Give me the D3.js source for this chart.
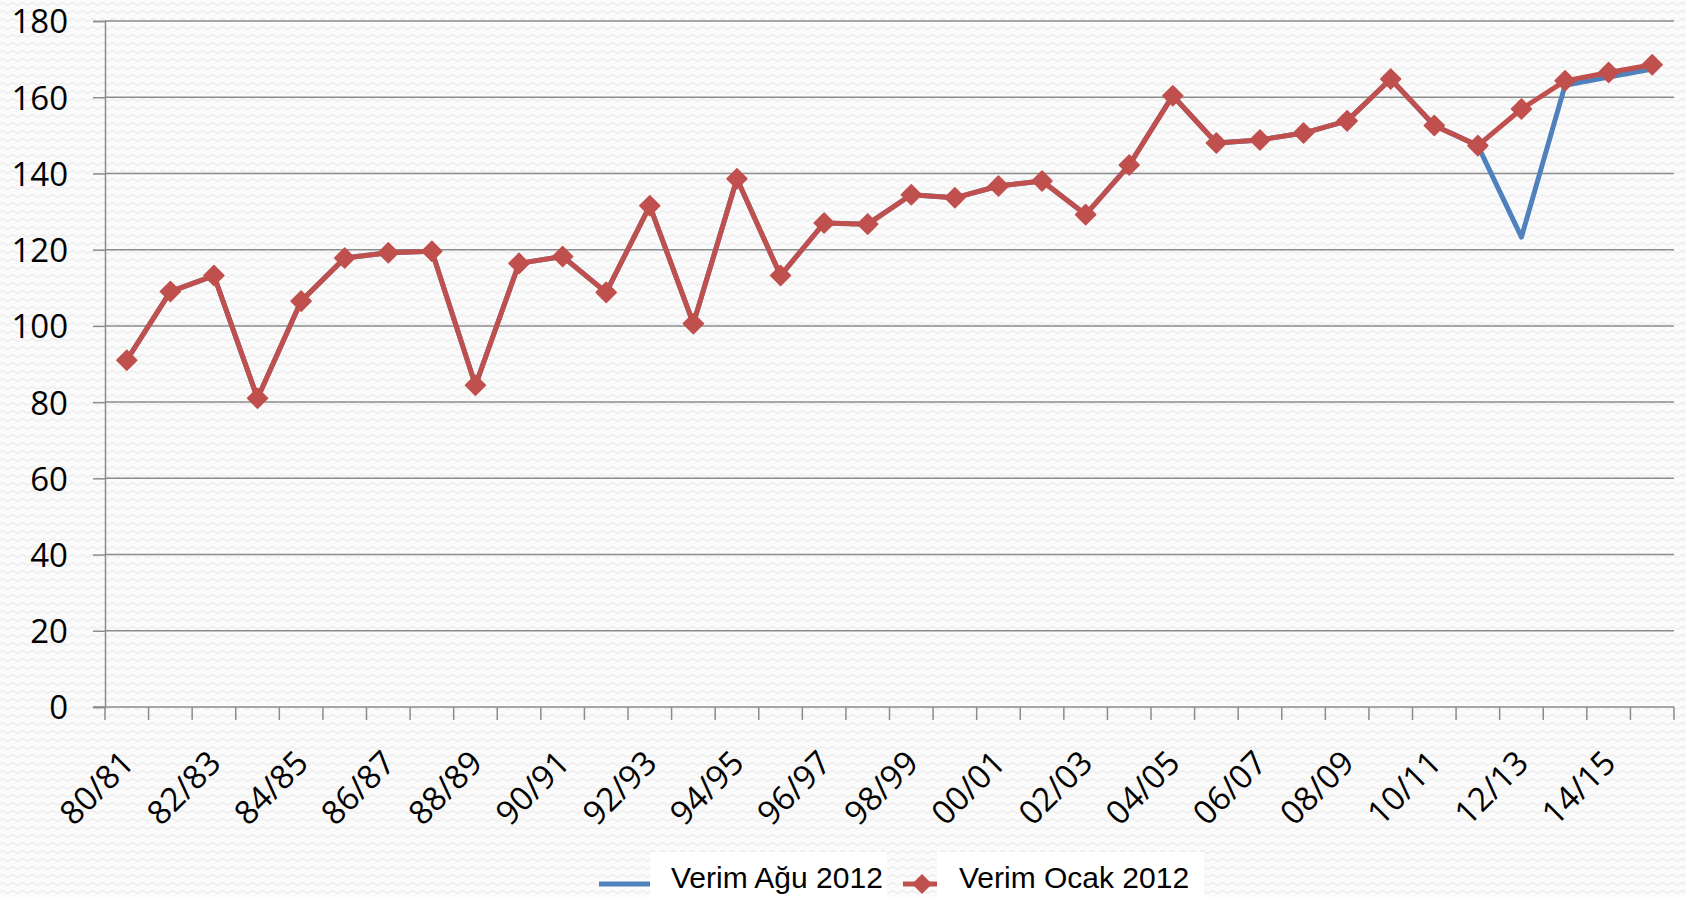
<!DOCTYPE html>
<html>
<head>
<meta charset="utf-8">
<script src="https://cdn.jsdelivr.net/npm/d3@7"></script>
<style>
  body { margin: 0; background: #fafafa; }
  svg text { fill: #000; }
</style>
</head>
<body>
<div id="chart"></div>
<script>
var width = 1686,
    height = 897;

// data
var seasons = ["80/81","81/82","82/83","83/84","84/85","85/86","86/87","87/88","88/89","89/90",
               "90/91","91/92","92/93","93/94","94/95","95/96","96/97","97/98","98/99","99/00",
               "00/01","01/02","02/03","03/04","04/05","05/06","06/07","07/08","08/09","09/10",
               "10/11","11/12","12/13","13/14","14/15","15/16"];

var verimAgu = [91, 109, 113.2, 81, 106.5, 117.8, 119.2, 119.6, 84.4, 116.4,
                118.2, 108.8, 131.5, 100.6, 138.6, 113.2, 127, 126.7, 134.4, 133.6,
                136.7, 138, 129.2, 142.2, 160.4, 148, 148.8, 150.6, 153.8, 164.8,
                152.6, 147.3, 123.3, 163.1, 165.3, 167.4];

var verimOcak = [91, 109, 113.2, 81, 106.5, 117.8, 119.2, 119.6, 84.4, 116.4,
                 118.2, 108.8, 131.5, 100.6, 138.6, 113.2, 127, 126.7, 134.4, 133.6,
                 136.7, 138, 129.2, 142.2, 160.4, 148, 148.8, 150.6, 153.8, 164.8,
                 152.6, 147.3, 156.9, 164.3, 166.5, 168.5];

var yTicks = [0, 20, 40, 60, 80, 100, 120, 140, 160, 180];
var xLabels = seasons.filter(function(d, i) { return i % 2 === 0; });
var seriesNames = ["Verim Ağu 2012", "Verim Ocak 2012"];

var colors = { agu: "#4f81bd", ocak: "#c0504d", grid: "#8c8c8c" };

var margin = { left: 105, right: 12, top: 21, bottom: 190 };

var x = d3.scaleBand()
    .domain(seasons)
    .range([margin.left, width - margin.right])
    .padding(0);

var y = d3.scaleLinear()
    .domain([0, 180])
    .range([height - margin.bottom, margin.top]);

var svg = d3.select("#chart").append("svg")
    .attr("width", width)
    .attr("height", height);

// wavy background texture
var defs = svg.append("defs");
var pat = defs.append("pattern")
    .attr("id", "waves")
    .attr("patternUnits", "userSpaceOnUse")
    .attr("width", 10)
    .attr("height", 8);
pat.append("rect").attr("width", 10).attr("height", 8).attr("fill", "#fbfbfb");
pat.append("path")
    .attr("d", "M0,4 Q2.5,1.5 5,4 T10,4")
    .attr("fill", "none")
    .attr("stroke", "#ececec")
    .attr("stroke-width", 1.2);

svg.append("rect")
    .attr("width", width)
    .attr("height", height)
    .attr("fill", "url(#waves)");

// gridlines
svg.append("g")
    .selectAll("line")
    .data(yTicks.filter(function(d) { return d > 0; }))
    .join("line")
    .attr("x1", margin.left)
    .attr("x2", width - margin.right)
    .attr("y1", function(d) { return y(d); })
    .attr("y2", function(d) { return y(d); })
    .attr("stroke", colors.grid)
    .attr("stroke-width", 1.5);

// y axis
var yAxis = svg.append("g")
    .attr("transform", "translate(" + margin.left + ",0)")
    .call(d3.axisLeft(y).tickValues(yTicks).tickSize(12).tickPadding(25));
yAxis.select(".domain").attr("stroke", colors.grid).attr("stroke-width", 1.5);
yAxis.selectAll(".tick line").attr("stroke", colors.grid).attr("stroke-width", 1.5);
yAxis.selectAll(".tick text")
    .attr("font-family", "'Open Sans', sans-serif")
    .attr("font-size", 33)
    .attr("dy", "0.36em");

// x axis
var x0 = y(0);
svg.append("line")
    .attr("x1", margin.left - 12)
    .attr("x2", width - margin.right)
    .attr("y1", x0)
    .attr("y2", x0)
    .attr("stroke", colors.grid)
    .attr("stroke-width", 1.5);

var bounds = seasons.map(function(d) { return x(d); }).concat([x.range()[1]]);
svg.append("g")
    .selectAll("line")
    .data(bounds)
    .join("line")
    .attr("x1", function(d) { return d; })
    .attr("x2", function(d) { return d; })
    .attr("y1", x0)
    .attr("y2", x0 + 13)
    .attr("stroke", colors.grid)
    .attr("stroke-width", 1.5);

svg.append("g")
    .selectAll("text")
    .data(xLabels)
    .join("text")
    .attr("transform", function(d) {
      return "translate(" + (x(d) + x.bandwidth() / 2 + 9) + "," + (x0 + 58) + ") rotate(-45)";
    })
    .attr("text-anchor", "end")
    .attr("font-family", "'Open Sans', sans-serif")
    .attr("font-size", 33)
    .text(function(d) { return d; });

// lines
var line = d3.line()
    .x(function(d, i) { return x(seasons[i]) + x.bandwidth() / 2; })
    .y(function(d) { return y(d); });

svg.append("path")
    .datum(verimAgu)
    .attr("fill", "none")
    .attr("stroke", colors.agu)
    .attr("stroke-width", 5)
    .attr("stroke-linejoin", "round")
    .attr("d", line);

svg.append("path")
    .datum(verimOcak)
    .attr("fill", "none")
    .attr("stroke", colors.ocak)
    .attr("stroke-width", 5)
    .attr("stroke-linejoin", "round")
    .attr("d", line);

var diamond = "M0,-10L10,0L0,10L-10,0Z";

svg.append("g")
    .selectAll("path")
    .data(verimOcak)
    .join("path")
    .attr("transform", function(d, i) {
      return "translate(" + (x(seasons[i]) + x.bandwidth() / 2) + "," + y(d) + ")";
    })
    .attr("d", diamond)
    .attr("fill", colors.ocak)
    .attr("stroke", colors.ocak)
    .attr("stroke-width", 1.5)
    .attr("stroke-linejoin", "round");

// legend
var legend = svg.append("g");

legend.append("line")
    .attr("x1", 599).attr("x2", 650)
    .attr("y1", 884).attr("y2", 884)
    .attr("stroke", colors.agu)
    .attr("stroke-width", 5);

legend.append("line")
    .attr("x1", 903).attr("x2", 940)
    .attr("y1", 884).attr("y2", 884)
    .attr("stroke", colors.ocak)
    .attr("stroke-width", 5);
legend.append("path")
    .attr("transform", "translate(922,884)")
    .attr("d", diamond)
    .attr("fill", colors.ocak);

legend.append("rect")
    .attr("x", 650).attr("y", 852)
    .attr("width", 237).attr("height", 45)
    .attr("fill", "#fff");
legend.append("rect")
    .attr("x", 937).attr("y", 852)
    .attr("width", 267).attr("height", 45)
    .attr("fill", "#fff");

legend.selectAll("text")
    .data(seriesNames)
    .join("text")
    .attr("x", function(d, i) { return i === 0 ? 671 : 959; })
    .attr("y", 888)
    .attr("font-family", "'Liberation Sans', Arial, sans-serif")
    .attr("font-size", 30)
    .text(function(d) { return d; });
</script>
</body>
</html>
